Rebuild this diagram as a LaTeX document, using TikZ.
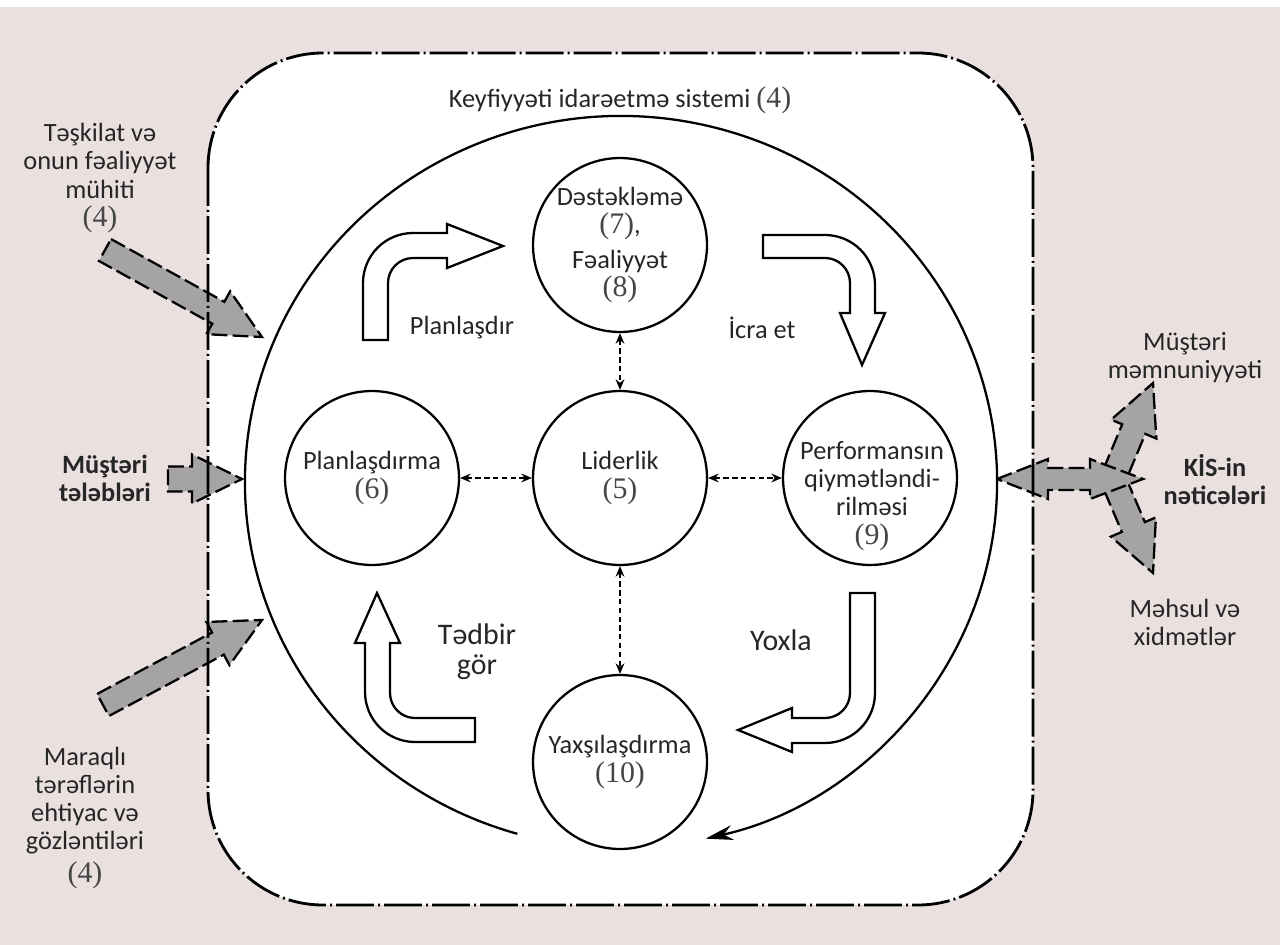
\documentclass[tikz,border=0pt]{standalone}
\usepackage{fontspec}
\setmainfont{Carlito}
\newfontfamily\numfont{Liberation Serif}
\usetikzlibrary{arrows.meta,calc}

\definecolor{bgpink}{RGB}{234,224,223}
\definecolor{arrowgray}{RGB}{165,163,163}
\definecolor{numgray}{RGB}{70,70,70}

\newcommand{\pnum}[1]{{\numfont\fontsize{17}{16}\selectfont\color{numgray}(#1)}}
% grey input / output arrow from #1 to #2
\newcommand{\grayarrow}[2]{%
  \path ($(#2)!1cm!(#1)$) coordinate (ga-h);
  \draw[feed] ($(#1)!0.25cm!90:(#2)$) -- ($(ga-h)!0.25cm!90:(#2)$) -- ($(ga-h)!0.49cm!90:(#2)$) -- (#2)
    -- ($(ga-h)!0.49cm!-90:(#2)$) -- ($(ga-h)!0.25cm!-90:(#2)$) -- ($(#1)!0.25cm!-90:(#2)$) -- cycle;}

\tikzset{
  every node/.style={font=\fontsize{15}{16}\selectfont, text=black!85},
  strong/.style={font=\fontsize{15}{16}\selectfont\bfseries},
  steptxt/.style={font=\fontsize{17}{17}\selectfont},
  frame/.style={line width=1.6pt, dash pattern=on 0.76cm off 0.08cm on 0.04cm off 0.08cm},
  hub/.style={circle, draw, line width=1.3pt, minimum size=3.48cm, align=center, inner sep=0pt, fill=white},
  link/.style={densely dashed, line width=0.8pt, {Stealth[length=6pt,width=5pt]}-{Stealth[length=6pt,width=5pt]}},
  pdca/.style={draw, line width=1.3pt, fill=white},
  feed/.style={draw, line width=1.3pt, fill=arrowgray, dash pattern=on 9pt off 3pt},
  loopline/.style={line width=1.3pt, -{Stealth[length=0.55cm,width=0.3cm]}},
  lbl/.style={align=center},
}

\begin{document}
\begin{tikzpicture}[x=0.02cm, y=-0.02cm]
\useasboundingbox (0,0) rectangle (1280,945);
\fill[bgpink] (0,7) rectangle (1280,945);

% system frame
\fill[white, rounded corners=2.3cm] (208,53) rectangle (1033,905);

% inputs
\coordinate (orgA) at (105,250);
\coordinate (orgB) at (262,337);
\coordinate (reqA) at (168,479);
\coordinate (reqB) at (242,479);
\coordinate (partA) at (103,705);
\coordinate (partB) at (262,620);
\grayarrow{orgA}{orgB}
\grayarrow{reqA}{reqB}
\grayarrow{partA}{partB}

% outputs
\coordinate (resL) at (997,479);
\coordinate (resR) at (1143,479);
\coordinate (satA) at (1115,474);
\coordinate (satB) at (1153,383);
\coordinate (prodA) at (1115,484);
\coordinate (prodB) at (1153,573);
\grayarrow{satA}{satB}
\grayarrow{prodA}{prodB}
\draw[feed] (resL) -- ++(51,-20) -- ++(0,9) -- (1090,468) -- ++(0,-9) -- (resR)
  -- ++(-53,20) -- ++(0,-9) -- (1048,490) -- ++(0,9) -- cycle;

\draw[frame, rounded corners=2.3cm] (208,53) rectangle (1033,905);

% PDCA loop
\coordinate (loopc) at (621,482);
\draw[loopline] ($(loopc)+(106:376 and 366)$) arc[start angle=106, end angle=437, x radius=376, y radius=366];

% Plan / Do / Check / Act arrows
\draw[pdca] (363,340) -- (363,283) arc[start angle=180, end angle=270, radius=50] -- (447,233) -- (447,224)
  -- (503,246) -- (447,268) -- (447,258) -- (413,258) arc[start angle=270, end angle=180, radius=25] -- (388,340) -- cycle;
\draw[pdca] (763,235) -- (825,235) arc[start angle=270, end angle=360, radius=50] -- (875,313) -- (885,313)
  -- (862,365) -- (840,313) -- (850,313) -- (850,283) arc[start angle=0, end angle=-90, radius=25] -- (763,258) -- cycle;
\draw[pdca] (850,593) -- (875,593) -- (875,693) arc[start angle=0, end angle=90, radius=50] -- (792,743) -- (792,752)
  -- (738,730) -- (792,708) -- (792,718) -- (825,718) arc[start angle=90, end angle=0, radius=25] -- cycle;
\draw[pdca] (475,718) -- (475,742) -- (415,742) arc[start angle=90, end angle=180, radius=50] -- (365,643) -- (355,643)
  -- (377,593) -- (400,643) -- (390,643) -- (390,693) arc[start angle=180, end angle=90, radius=25] -- cycle;

% clauses
\node[hub] (sup) at (620,245) {Dəstəkləmə\\\pnum{7},\\[4pt]Fəaliyyət\\\pnum{8}};
\node[hub] (lead) at (620,478) {Liderlik\\\pnum{5}};
\node[hub] (plan) at (372,478) {Planlaşdırma\\\pnum{6}};
\node[hub] (perf) at (870,478) {};
\node[lbl] (perftxt) at (872,496) {Performansın\\qiymətləndi-\\rilməsi\\\pnum{9}};
\node[hub] (impr) at (620,762) {Yaxşılaşdırma\\\pnum{10}};

\draw[link] (sup) -- (lead);
\draw[link] (lead) -- (impr);
\draw[link] (plan) -- (lead);
\draw[link] (lead) -- (perf);

% labels
\node (qmstxt) at (620,100) {Keyfiyyəti idarəetmə sistemi \pnum{4}};
\node (plantxt) at (462,328) {Planlaşdır};
\node (dotxt) at (762,328) {İcra et};
\node[lbl, steptxt] (acttxt) at (477,652) {Tədbir\\gör};
\node[steptxt] (checktxt) at (781,640) {Yoxla};

\node[lbl] (orgtxt) at (100,178) {Təşkilat və\\onun fəaliyyət\\mühiti\\\pnum{4}};
\node[lbl, strong] (reqtxt) at (105,478) {Müştəri\\tələbləri};
\node[lbl] (parttxt) at (85,818) {Maraqlı\\tərəflərin\\ehtiyac və\\gözləntiləri\\[3pt]\pnum{4}};
\node[lbl] (sattxt) at (1185,358) {Müştəri\\məmnuniyyəti};
\node[lbl, strong] (restxt) at (1215,480) {KİS-in\\nəticələri};
\node[lbl] (prodtxt) at (1185,622) {Məhsul və\\xidmətlər};
\end{tikzpicture}
\end{document}
